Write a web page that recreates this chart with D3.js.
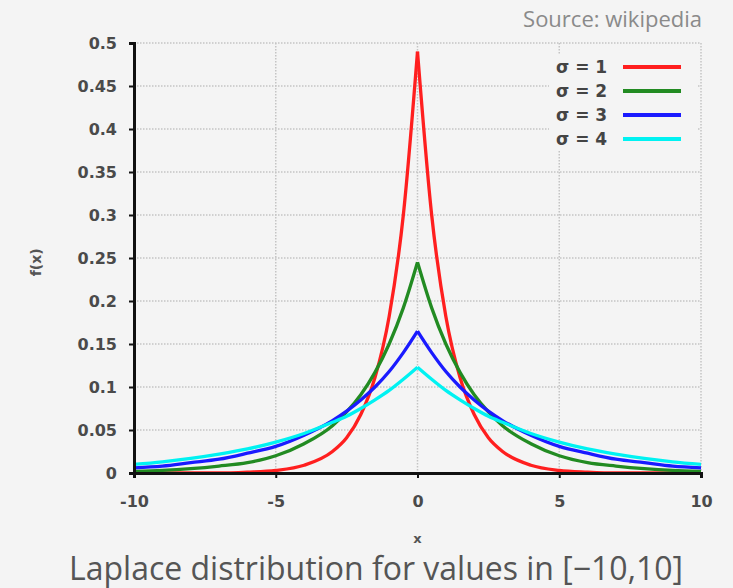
<html>
<script src="https://d3js.org/d3.v7.min.js"></script>

<style>
  body {
    margin: 0;
    background: #f4f4f4;
  }
  .tick text {
    font-family: "DejaVu Sans", sans-serif;
    font-weight: bold;
    fill: #4a4a4a;
  }
</style>

<body>
  <div id="chart"></div>
  <script>

    const xs = [-10, -9, -8, -7, -6, -5, -4, -3, -2.5, -2, -1.5, -1, -0.5, 0,
      0.5, 1, 1.5, 2, 2.5, 3, 4, 5, 6, 7, 8, 9, 10];
    const s1 = [0.000, 0.000, 0.000, 0.000, 0.001, 0.003, 0.009, 0.025, 0.041, 0.068, 0.111, 0.182, 0.300, 0.490,
      0.300, 0.182, 0.111, 0.068, 0.041, 0.025, 0.009, 0.003, 0.001, 0.000, 0.000, 0.000, 0.000];
    const s2 = [0.002, 0.003, 0.005, 0.008, 0.012, 0.020, 0.034, 0.055, 0.071, 0.091, 0.117, 0.150, 0.192, 0.245,
      0.192, 0.150, 0.117, 0.091, 0.071, 0.055, 0.034, 0.020, 0.012, 0.008, 0.005, 0.003, 0.002];
    const s3 = [0.006, 0.008, 0.012, 0.016, 0.023, 0.031, 0.044, 0.061, 0.072, 0.085, 0.100, 0.118, 0.140, 0.165,
      0.140, 0.118, 0.100, 0.085, 0.072, 0.061, 0.044, 0.031, 0.023, 0.016, 0.012, 0.008, 0.006];
    const s4 = [0.010, 0.013, 0.017, 0.022, 0.028, 0.036, 0.046, 0.059, 0.066, 0.075, 0.085, 0.096, 0.109, 0.123,
      0.109, 0.096, 0.085, 0.075, 0.066, 0.059, 0.046, 0.036, 0.028, 0.022, 0.017, 0.013, 0.010];

    const seriesNames = ["σ = 1", "σ = 2", "σ = 3", "σ = 4"];
    const seriesColors = ["#ff1f1f", "#228b22", "#1a1aff", "#00f2f2"];
    const series = [s1, s2, s3, s4];

    const xTicks = [-10, -5, 0, 5, 10];
    const yTicks = [0, 0.05, 0.1, 0.15, 0.2, 0.25, 0.3, 0.35, 0.4, 0.45, 0.5];

    var margin = { top: 43, right: 32, bottom: 115, left: 134 };
    var width = 733 - margin.left - margin.right;
    var height = 588 - margin.top - margin.bottom;

    var root = d3.select("#chart")
      .append("svg")
      .attr("width", 733)
      .attr("height", 588);

    var svg = root.append("g")
      .attr("transform", `translate(${margin.left},${margin.top})`);

    var xScale = d3.scaleLinear().domain([-10, 10]).range([0, width]);
    var yScale = d3.scaleLinear().domain([0, 0.5]).range([height, 0]);

    // grid
    svg.append("g")
      .selectAll("line")
      .data(yTicks.slice(1))
      .enter()
      .append("line")
      .attr("x1", 0)
      .attr("x2", width)
      .attr("y1", d => yScale(d))
      .attr("y2", d => yScale(d))
      .attr("stroke", "#c4c4c4")
      .attr("stroke-width", 1.5)
      .attr("stroke-dasharray", "1.5,1.5");

    svg.append("g")
      .selectAll("line")
      .data(xTicks.slice(1))
      .enter()
      .append("line")
      .attr("x1", d => xScale(d))
      .attr("x2", d => xScale(d))
      .attr("y1", 0)
      .attr("y2", height)
      .attr("stroke", "#c4c4c4")
      .attr("stroke-width", 1.5)
      .attr("stroke-dasharray", "1.5,1.5");

    // legend background hides the grid
    var lg = svg.append("g").attr("transform", `translate(${width - 158},12)`);
    lg.append("rect")
      .attr("x", 6)
      .attr("y", 0)
      .attr("width", 148)
      .attr("height", 96)
      .attr("fill", "#f4f4f4");

    seriesNames.forEach(function (name, i) {
      lg.append("text")
        .attr("x", 13)
        .attr("y", 12 + i * 24)
        .attr("dy", "0.35em")
        .style("font-family", "DejaVu Sans, sans-serif")
        .style("font-weight", "bold")
        .style("font-size", "17px")
        .style("fill", "#444")
        .text(name);
      lg.append("line")
        .attr("x1", 80)
        .attr("x2", 138)
        .attr("y1", 12 + i * 24)
        .attr("y2", 12 + i * 24)
        .attr("stroke", seriesColors[i])
        .attr("stroke-width", 4);
    });

    // curves (drawn per half so the cusp at 0 stays sharp)
    var line = d3.line()
      .x(d => xScale(d[0]))
      .y(d => yScale(d[1]))
      .curve(d3.curveMonotoneX);

    series.forEach(function (vals, i) {
      var pts = xs.map((x, j) => [x, vals[j]]);
      var left = pts.filter(p => p[0] <= 0);
      var right = pts.filter(p => p[0] >= 0);
      [left, right].forEach(function (part) {
        svg.append("path")
          .datum(part)
          .attr("fill", "none")
          .attr("stroke", seriesColors[i])
          .attr("stroke-width", 3.3)
          .attr("stroke-linejoin", "round")
          .attr("d", line);
      });
    });

    // axes
    var yAxis = svg.append("g")
      .call(d3.axisLeft(yScale).tickValues(yTicks).tickFormat(d3.format("")).tickSize(5).tickPadding(12));
    yAxis.select(".domain").attr("stroke", "#111").attr("stroke-width", 3);
    yAxis.selectAll(".tick line").attr("stroke", "#111").attr("stroke-width", 2);
    yAxis.selectAll(".tick text").style("font-size", "16px");

    var xAxis = svg.append("g")
      .attr("transform", "translate(0," + height + ")")
      .call(d3.axisBottom(xScale).tickValues(xTicks).tickFormat(d => String(d)).tickSize(5).tickPadding(18));
    xAxis.select(".domain").attr("stroke", "#111").attr("stroke-width", 3);
    xAxis.selectAll(".tick line").attr("stroke", "#111").attr("stroke-width", 2);
    xAxis.selectAll(".tick text").style("font-size", "16px");

    svg.append("text")
      .attr("x", xScale(0))
      .attr("y", height + 70)
      .style("text-anchor", "middle")
      .style("font-family", "DejaVu Sans, sans-serif")
      .style("font-weight", "bold")
      .style("font-size", "13px")
      .style("fill", "#555")
      .text("x");

    svg.append("text")
      .attr("transform", "rotate(-90)")
      .attr("x", 0 - yScale(0.245))
      .attr("y", -93)
      .style("text-anchor", "middle")
      .style("font-family", "DejaVu Sans, sans-serif")
      .style("font-weight", "bold")
      .style("font-size", "14px")
      .style("fill", "#555")
      .text("f(x)");

    root.append("text")
      .attr("x", 702)
      .attr("y", 27)
      .style("text-anchor", "end")
      .style("font-family", "Open Sans, sans-serif")
      .style("font-size", "22px")
      .style("fill", "#8a8a8a")
      .text("Source: wikipedia");

    root.append("text")
      .attr("x", 376)
      .attr("y", 580)
      .style("text-anchor", "middle")
      .style("font-family", "Open Sans, sans-serif")
      .style("font-size", "32px")
      .style("fill", "#555")
      .text("Laplace distribution for values in [−10,10]");

  </script>

</body>

</html>
